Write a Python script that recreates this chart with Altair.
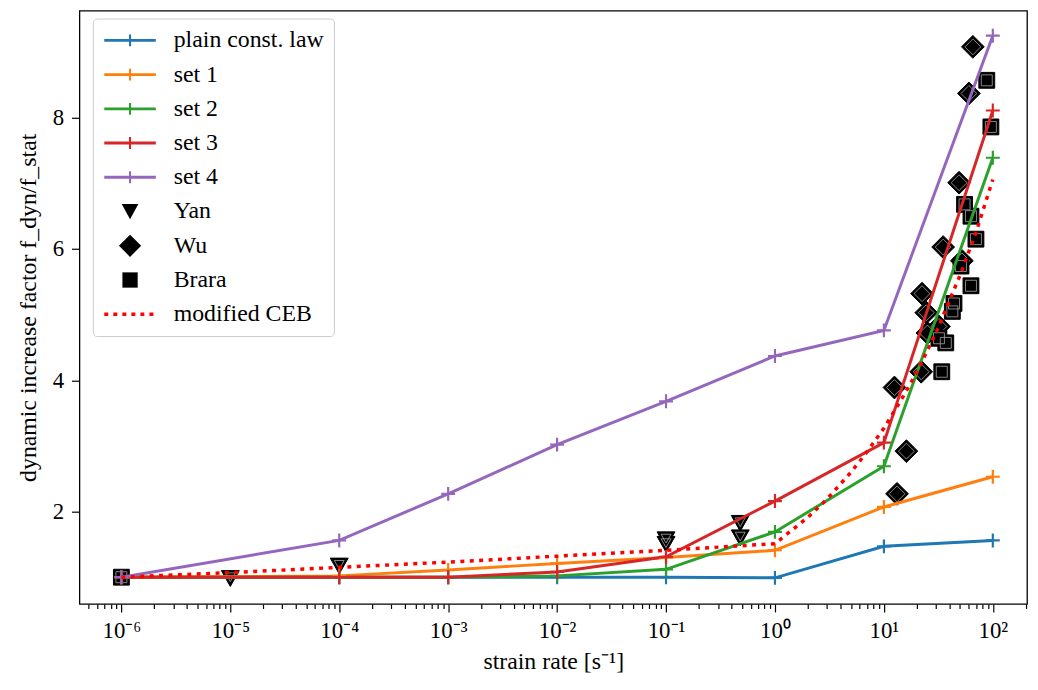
import altair as alt
import pandas as pd

# ---------------- data ----------------
RATES = [1e-6, 1e-4, 1e-3, 1e-2, 1e-1, 1e0, 1e1, 1e2]
PLAIN = [1.00, 1.00, 1.00, 1.00, 1.00, 0.99, 1.47, 1.56]
SET1 = [1.00, 1.02, 1.11, 1.21, 1.30, 1.41, 2.07, 2.53]
SET2 = [1.00, 1.00, 1.00, 1.02, 1.12, 1.69, 2.69, 7.39]
SET3 = [1.00, 1.00, 1.00, 1.08, 1.31, 2.16, 3.05, 8.11]
SET4 = [1.00, 1.56, 2.27, 3.02, 3.68, 4.37, 4.76, 9.25]

YAN_RATE = [1e-5, 1e-4, 0.1, 0.1, 0.48, 0.48]
YAN_DIF = [0.98, 1.17, 1.57, 1.50, 1.82, 1.60]

WU_RATE = [65.6, 60.3, 49.0, 35.0, 52.0, 22.4, 24.5, 25.1, 32.0, 22.0, 12.5, 16.1, 13.2]
WU_DIF = [9.08, 8.37, 7.01, 6.03, 5.82, 5.32, 5.03, 4.72, 4.82, 4.13, 3.89, 2.92, 2.27]

BRARA_RATE = [1e-6, 88.0, 96.0, 55.0, 63.0, 70.0, 51.0, 63.0, 44.0, 42.5, 32.0, 37.0, 34.0]
BRARA_DIF = [1.00, 8.57, 7.86, 6.68, 6.50, 6.15, 5.74, 5.44, 5.17, 5.05, 4.64, 4.57, 4.13]

CEB_RATE = [1e-6, 1e-5, 1e-4, 1e-3, 1e-2, 1e-1, 1, 2, 3, 5, 7, 10, 15, 20, 30, 50, 70, 100]
CEB_DIF = [1.00, 1.07, 1.15, 1.23, 1.32, 1.41, 1.51, 1.91, 2.19, 2.60, 2.91, 3.27,
           3.75, 4.12, 4.72, 5.60, 6.25, 7.06]

LINE_NAMES = ["plain const. law", "set 1", "set 2", "set 3", "set 4"]
LINE_COLORS = ["#1f77b4", "#ff7f0e", "#2ca02c", "#d62728", "#9467bd"]
MARKER_NAMES = ["Yan", "Wu", "Brara"]
CEB_NAME = "modified CEB"
ALL_NAMES = LINE_NAMES + MARKER_NAMES + [CEB_NAME]
X_TICK_LABELS = ["10⁻⁶", "10⁻⁵", "10⁻⁴", "10⁻³", "10⁻²", "10⁻¹", "10⁰", "10¹", "10²"]
Y_TICKS = [2, 4, 6, 8]

# ---------------- styling ----------------
FONT = "Liberation Serif"
FS_TICK = 23
FS_TEXT = 24
W, H = 955, 598
X_DOMAIN = [10 ** -6.385, 10 ** 2.314]
Y_DOMAIN = [0.592, 9.632]

PLUS = "M-1,0L1,0M0,-1L0,1"
TRI = "M-1.29,-1.14L1.29,-1.14L0,1.14Z"
TRI_IN = "M-0.71,-0.8L0.71,-0.8L0,0.46Z"
DIA = "M0,-1.64L1.64,0L0,1.64L-1.64,0Z"
DIA_IN = "M0,-1.14L1.14,0L0,1.14L-1.14,0Z"
SQ = "M-1.14,-1.14L1.14,-1.14L1.14,1.14L-1.14,1.14Z"
SQ_IN = "M-0.79,-0.79L0.79,-0.79L0.79,0.79L-0.79,0.79Z"

# legend symbols are drawn as filled shapes (unit = 7 px)
LEG_LINE = ("M-3.71,-0.21H3.71V0.21H-3.71Z"
            "M-0.15,-0.86H0.15V0.86H-0.15Z")
LEG_TRI = "M-1.2,-1.1L1.2,-1.1L0,1.1Z"
LEG_DIA = "M0,-1.6L1.6,0L0,1.6L-1.6,0Z"
LEG_SQ = "M-1.1,-1.1L1.1,-1.1L1.1,1.1L-1.1,1.1Z"
LEG_DOT = "".join(
    f"M{-3.71 + k * 1.3:.2f},-0.25h0.57v0.5h-0.57Z" for k in range(6)
)
LEGEND_PATHS = [LEG_LINE] * 5 + [LEG_TRI, LEG_DIA, LEG_SQ, LEG_DOT]
LEGEND_FILL = LINE_COLORS + ["black"] * 3 + ["#ff0000"]

tick_vals = []
for e in range(-7, 3):
    for m in range(1, 10):
        v = m * 10.0 ** e
        if X_DOMAIN[0] <= v <= X_DOMAIN[1]:
            tick_vals.append(v)

LOGV = "log(datum.value)/LN10"
DECADE = f"abs({LOGV} - round({LOGV})) < 0.001"
label_arr = "[" + ",".join(f"'{t}'" for t in X_TICK_LABELS) + "]"

x_axis = alt.Axis(
    values=tick_vals,
    labelExpr=f"{DECADE} ? {label_arr}[round({LOGV}) + 6] : ''",
    tickSize={"condition": {"test": f"!({DECADE})", "value": 4.5}, "value": 8},
    tickWidth=1.2, tickColor="black", domain=False, grid=False,
    labelFont=FONT, labelFontSize=FS_TICK, labelColor="black", labelPadding=8,
    labelOverlap=False, labelFlush=False,
    title="strain rate [s⁻¹]", titleFont=FONT, titleFontSize=FS_TEXT,
    titleFontWeight="normal", titleColor="black", titlePadding=7,
)
y_axis = alt.Axis(
    values=Y_TICKS, format="d", tickSize=8, tickWidth=1.2, tickColor="black",
    domain=False, grid=False,
    labelFont=FONT, labelFontSize=FS_TICK, labelColor="black", labelPadding=8,
    title="dynamic increase factor f_dyn/f_stat", titleFont=FONT, titleFontSize=FS_TEXT,
    titleFontWeight="normal", titleColor="black", titlePadding=12,
)

x_enc = alt.X("rate:Q", scale=alt.Scale(type="log", domain=X_DOMAIN, nice=False), axis=x_axis)
y_enc = alt.Y("dif:Q", scale=alt.Scale(domain=Y_DOMAIN, nice=False, zero=False), axis=y_axis)

lines_df = pd.DataFrame({
    "rate": RATES * len(LINE_NAMES),
    "dif": PLAIN + SET1 + SET2 + SET3 + SET4,
    "series": [n for n in LINE_NAMES for _ in RATES],
})
yan_df = pd.DataFrame({"rate": YAN_RATE, "dif": YAN_DIF})
wu_df = pd.DataFrame({"rate": WU_RATE, "dif": WU_DIF})
brara_df = pd.DataFrame({"rate": BRARA_RATE, "dif": BRARA_DIF})
ceb_df = pd.DataFrame({"rate": CEB_RATE, "dif": CEB_DIF})
legend_df = pd.DataFrame({"series": ALL_NAMES})

line_color = alt.Color("series:N", scale=alt.Scale(domain=LINE_NAMES, range=LINE_COLORS), legend=None)


def marker_layers(df, outer, inner):
    a = alt.Chart(df).mark_point(shape=outer, size=196, filled=True, fill="black",
                                 stroke="black", strokeWidth=1, opacity=1).encode(x=x_enc, y=y_enc)
    b = alt.Chart(df).mark_point(shape=inner, size=196, filled=False, fill="transparent",
                                 stroke="#a8a8a8", strokeWidth=0.8, opacity=1).encode(x=x_enc, y=y_enc)
    return [a, b]


lines = alt.Chart(lines_df).mark_line(strokeWidth=3).encode(x=x_enc, y=y_enc, color=line_color)
plus = alt.Chart(lines_df).mark_point(shape=PLUS, size=196, filled=False, strokeWidth=2.2,
                                      opacity=1).encode(x=x_enc, y=y_enc, color=line_color)
ceb = alt.Chart(ceb_df).mark_line(color="#ff0000", strokeDash=[4, 5.5], strokeWidth=3.5).encode(
    x=x_enc, y=y_enc)

legend = alt.Legend(
    orient="none", legendX=13.5, legendY=8.0, title=None,
    symbolSize=196, symbolStrokeWidth=0, symbolOffset=15.5, labelOffset=32,
    symbolOpacity=1,
    labelFont=FONT, labelFontSize=FS_TEXT, labelColor="black", labelLimit=400,
    padding=10, rowPadding=10.5, fillColor="white", strokeColor="#cccccc", cornerRadius=4,
)
leg_layer = alt.Chart(legend_df).mark_point(size=0, opacity=1, filled=True, strokeWidth=0).encode(
    shape=alt.Shape("series:N", scale=alt.Scale(domain=ALL_NAMES, range=LEGEND_PATHS), legend=legend),
    fill=alt.Fill("series:N", scale=alt.Scale(domain=ALL_NAMES, range=LEGEND_FILL), legend=legend),
)

layers = (marker_layers(yan_df, TRI, TRI_IN) + marker_layers(wu_df, DIA, DIA_IN)
          + marker_layers(brara_df, SQ, SQ_IN) + [lines, plus, ceb, leg_layer])

chart = alt.layer(*layers).properties(
    width=W, height=H,
    autosize=alt.AutoSizeParams(type="none"),
    padding={"left": 72, "top": 0, "right": 3, "bottom": 76},
).configure(background="white").configure_view(stroke="black", strokeWidth=1.3)

chart.save("out.html", embed_options={"renderer": "svg", "actions": False})
